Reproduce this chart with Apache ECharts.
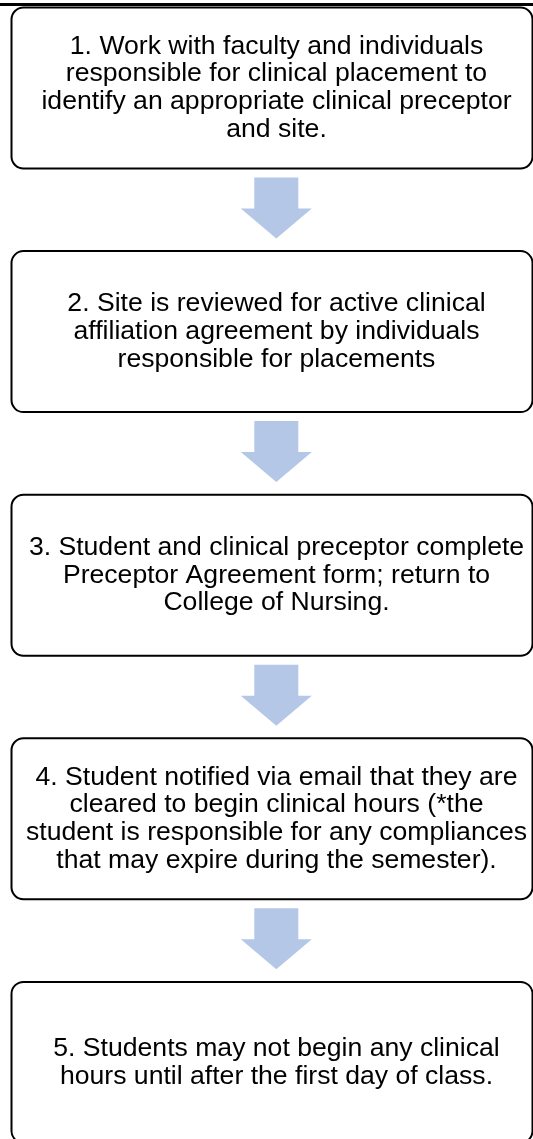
<!DOCTYPE html>
<html>
<head>
<meta charset="utf-8">
<script src="https://cdn.jsdelivr.net/npm/echarts@6/dist/echarts.min.js"></script>
<style>
  html, body { margin: 0; padding: 0; background: #ffffff; }
  #chart { width: 533px; height: 1139px; }
</style>
</head>
<body>
<div id="chart"></div>
<script>
// ---- data ----
const steps = [
  "1. Work with faculty and individuals\nresponsible for clinical placement to\nidentify an appropriate clinical preceptor\nand site.",
  "2. Site is reviewed for active clinical\naffiliation agreement by individuals\nresponsible for placements",
  "3. Student and clinical preceptor complete\nPreceptor Agreement form; return to\nCollege of Nursing.",
  "4. Student notified via email that they are\ncleared to begin clinical hours (*the\nstudent is responsible for any compliances\nthat may expire during the semester).",
  "5. Students may not begin any clinical\nhours until after the first day of class."
];
const stepOrder = [0, 1, 2, 3, 4];

// ---- chart ----
const chart = echarts.init(document.getElementById('chart'), null, { renderer: 'canvas' });

const ARROW_COLOR = '#B4C7E7';
const BOX_FRAC = 0.661;

function renderItem(params, api) {
  const idx = api.value(0);
  const cs = params.coordSys;
  const center = api.coord([0, idx]);
  const unit = api.size([0, 1])[1];
  const h = unit * BOX_FRAC;
  const top = center[1] - h / 2;
  const bottom = top + h;
  const children = [
    {
      type: 'rect',
      shape: { x: cs.x + 11.5, y: top, width: 521, height: h, r: 12 },
      style: { fill: '#ffffff', stroke: '#000000', lineWidth: 2 }
    },
    {
      type: 'text',
      style: {
        text: steps[idx],
        x: cs.x + 276.5,
        y: center[1],
        align: 'center',
        verticalAlign: 'middle',
        fontSize: 26.6,
        fontFamily: '"Liberation Sans", Arial, sans-serif',
        lineHeight: 27.7,
        fill: '#000000'
      }
    }
  ];
  if (idx < steps.length - 1) {
    const ax = cs.x + 276.3;
    const sw = 22, hw = 35.5;
    const sTop = bottom + 9, hTop = bottom + 40, tip = bottom + 70;
    children.push({
      type: 'polygon',
      shape: {
        points: [
          [ax - sw, sTop], [ax + sw, sTop], [ax + sw, hTop], [ax + hw, hTop],
          [ax, tip], [ax - hw, hTop], [ax - sw, hTop]
        ]
      },
      style: { fill: ARROW_COLOR }
    });
  }
  return { type: 'group', children: children };
}

chart.setOption({
  backgroundColor: '#ffffff',
  animation: false,
  grid: { left: 0, right: 0, top: 4, bottom: 0, containLabel: false },
  xAxis: {
    type: 'value', min: 0, max: 533, position: 'top',
    axisLine: { show: true, onZero: false, lineStyle: { color: '#000000', width: 3 } },
    axisTick: { show: false }, axisLabel: { show: false }, splitLine: { show: false }
  },
  yAxis: {
    type: 'value', inverse: true, min: -0.3448, max: 4.3144, show: false,
    splitLine: { show: false }
  },
  series: [{
    type: 'custom',
    renderItem: renderItem,
    clip: false,
    data: stepOrder.map(i => [i]),
    encode: { y: 0 },
    z: 3
  }]
});
</script>
</body>
</html>
